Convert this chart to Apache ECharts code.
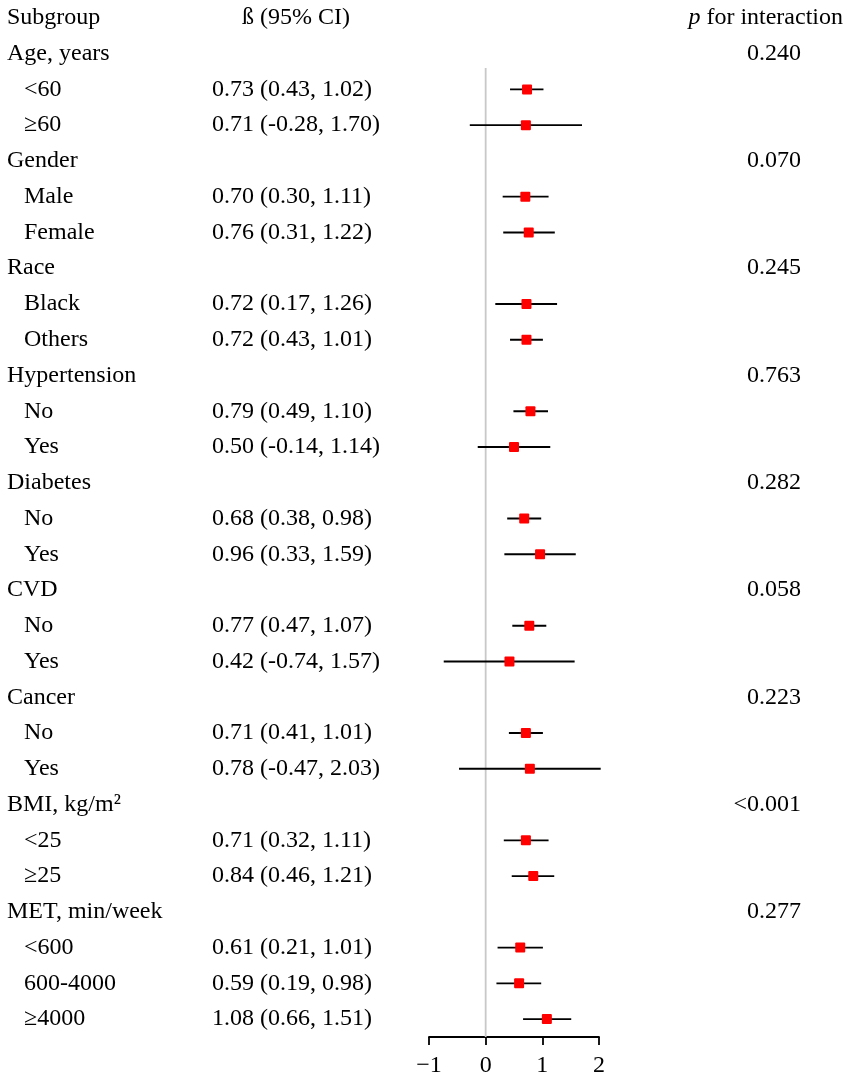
<!DOCTYPE html>
<html>
<head>
<meta charset="utf-8">
<script src="https://cdn.jsdelivr.net/npm/echarts@6/dist/echarts.min.js"></script>
<style>html,body{margin:0;padding:0;background:#fff}#c{width:851px;height:1081px}</style>
</head>
<body>
<div id="c"></div>
<script>
// ---- data ----
const rowLabels = ['Subgroup','Age, years','<60','≥60','Gender','Male','Female','Race','Black','Others',
  'Hypertension','No','Yes','Diabetes','No','Yes','CVD','No','Yes','Cancer','No','Yes',
  'BMI, kg/m²','<25','≥25','MET, min/week','<600','600-4000','≥4000'];
const rowIsGroup = [1,1,0,0,1,0,0,1,0,0,1,0,0,1,0,0,1,0,0,1,0,0,1,0,0,1,0,0,0];
const estimate = [null,null,0.73,0.71,null,0.70,0.76,null,0.72,0.72,null,0.79,0.50,null,0.68,0.96,null,0.77,0.42,null,0.71,0.78,null,0.71,0.84,null,0.61,0.59,1.08];
const lower    = [null,null,0.43,-0.28,null,0.30,0.31,null,0.17,0.43,null,0.49,-0.14,null,0.38,0.33,null,0.47,-0.74,null,0.41,-0.47,null,0.32,0.46,null,0.21,0.19,0.66];
const upper    = [null,null,1.02,1.70,null,1.11,1.22,null,1.26,1.01,null,1.10,1.14,null,0.98,1.59,null,1.07,1.57,null,1.01,2.03,null,1.11,1.21,null,1.01,0.98,1.51];
const pValues  = ['', '0.240','','', '0.070','','', '0.245','','', '0.763','','', '0.282','','', '0.058','','', '0.223','','', '<0.001','','', '0.277','','',''];
const xTicks = [-1, 0, 1, 2];
const ciHeader = 'ß (95% CI)';
const pHeader = 'for interaction';

// ---- build ----
const ciText = estimate.map((e, i) => i === 0 ? ciHeader : (e == null ? '' : e.toFixed(2) + ' (' + lower[i].toFixed(2) + ', ' + upper[i].toFixed(2) + ')'));
const ciData = [];
estimate.forEach((e, i) => { if (e != null) ciData.push([i, lower[i], upper[i], e]); });

const FONT = '"Liberation Serif", "Times New Roman", serif';
const chart = echarts.init(document.getElementById('c'));
const baseLabel = { fontFamily: FONT, fontSize: 24, color: '#000' };
const hiddenAxis = { axisLine: { show: false }, axisTick: { show: false }, splitLine: { show: false } };

chart.setOption({
  animation: false,
  grid: { left: 429, right: 252, top: 0, bottom: 44 },
  xAxis: {
    type: 'value', min: xTicks[0], max: xTicks[xTicks.length - 1], interval: 1,
    splitLine: { show: false },
    axisLine: { show: true, lineStyle: { color: '#000', width: 1.8 } },
    axisTick: { show: true, length: 8, lineStyle: { color: '#000', width: 1.8 } },
    axisLabel: Object.assign({}, baseLabel, { margin: 17, formatter: v => String(v).replace('-', '−') })
  },
  yAxis: [
    Object.assign({
      type: 'category', data: rowLabels, inverse: true, position: 'left', offset: 422,
      axisLabel: Object.assign({}, baseLabel, {
        align: 'left', margin: 0,
        formatter: (v, i) => rowIsGroup[i] ? '{g|' + v + '}' : '{s|' + v + '}',
        rich: { g: Object.assign({}, baseLabel), s: Object.assign({}, baseLabel, { padding: [0, 0, 0, 17] }) }
      })
    }, hiddenAxis),
    Object.assign({
      type: 'category', data: ciText, inverse: true, position: 'left', offset: 217,
      axisLabel: Object.assign({}, baseLabel, {
        align: 'left', margin: 0,
        formatter: (v, i) => i === 0 ? '{h|' + v + '}' : '{v|' + v + '}',
        rich: { h: Object.assign({}, baseLabel, { padding: [0, 0, 0, 30] }), v: Object.assign({}, baseLabel) }
      })
    }, hiddenAxis),
    Object.assign({
      type: 'category', data: pValues.map((p, i) => i === 0 ? pHeader : p), inverse: true, position: 'right', offset: 244,
      axisLabel: Object.assign({}, baseLabel, {
        align: 'right', margin: 0,
        formatter: (v, i) => i === 0 ? '{i|p} {h|' + v + '}' : (v ? '{v|' + v + '}' : ''),
        rich: {
          i: Object.assign({}, baseLabel, { fontStyle: 'italic' }),
          h: Object.assign({}, baseLabel),
          v: Object.assign({}, baseLabel, { padding: [0, 42, 0, 0] })
        }
      })
    }, hiddenAxis)
  ],
  series: [
    {
      type: 'custom', yAxisIndex: 0, data: [[0]], silent: true, clip: false,
      encode: { x: 0 },
      renderItem: function (params, api) {
        const band = api.size([0, 1])[1];
        const top = api.coord([0, 1]);
        const bottomY = params.coordSys.y + params.coordSys.height;
        return { type: 'line', shape: { x1: top[0], y1: top[1] + 0.4 * band, x2: top[0], y2: bottomY },
          style: { stroke: '#c8c8c8', lineWidth: 1.8 } };
      }
    },
    {
      type: 'custom', yAxisIndex: 0, data: ciData, silent: true, clip: false,
      encode: { y: 0, x: [1, 2, 3] },
      renderItem: function (params, api) {
        const y = api.value(0);
        const p1 = api.coord([api.value(1), y]);
        const p2 = api.coord([api.value(2), y]);
        const pc = api.coord([api.value(3), y]);
        const s = 10;
        return { type: 'group', children: [
          { type: 'line', shape: { x1: p1[0], y1: p1[1], x2: p2[0], y2: p2[1] }, style: { stroke: '#000', lineWidth: 1.9 } },
          { type: 'rect', shape: { x: pc[0] - s / 2, y: pc[1] - s / 2, width: s, height: s, r: 1 }, style: { fill: '#ff0000' } }
        ] };
      }
    }
  ]
});
</script>
</body>
</html>
